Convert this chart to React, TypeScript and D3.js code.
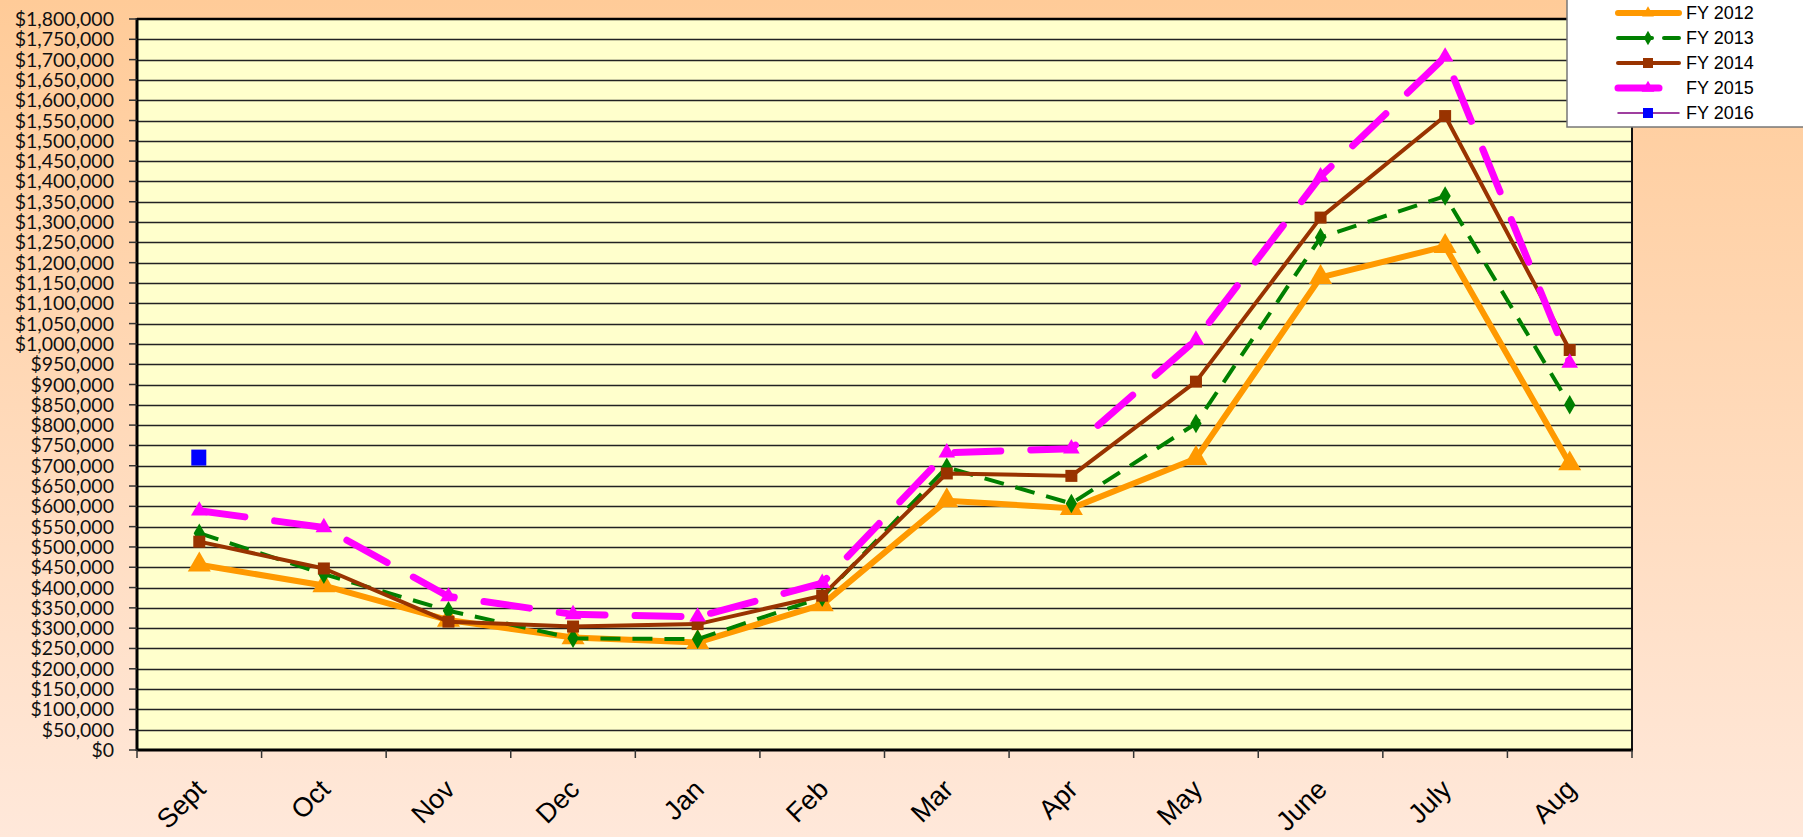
import React, { useEffect, useRef } from 'react';
import * as d3 from 'd3';

const months = ['Sept', 'Oct', 'Nov', 'Dec', 'Jan', 'Feb', 'Mar', 'Apr', 'May', 'June', 'July', 'Aug'];
const fy2012 = [456000, 405000, 320000, 277000, 265000, 358000, 614000, 595000, 718000, 1164000, 1240000, 705000];
const fy2013 = [534000, 433000, 343000, 275000, 273000, 376000, 696000, 607000, 804000, 1262000, 1364000, 850000];
const fy2014 = [513000, 447000, 316000, 304000, 310000, 380000, 681000, 675000, 907000, 1311000, 1561000, 985000];
const fy2015 = [589000, 548000, 378000, 334000, 328000, 411000, 732000, 742000, 1010000, 1412000, 1707000, 953000];
const fy2016 = [720000];
const seriesNames = ['FY 2012', 'FY 2013', 'FY 2014', 'FY 2015', 'FY 2016'];

const W = 1803;
const H = 837;

const App = () => {
  const svgRef = useRef<SVGSVGElement>(null);

  useEffect(() => {
    const svg = d3.select(svgRef.current);
    svg.selectAll('*').remove();

    const left = 137, right = 1632, top = 19, bottom = 750;
    const x = d3.scaleBand().domain(months).range([left, right]);
    const y = d3.scaleLinear().domain([0, 1800000]).range([bottom, top]);
    const cx = (m: string) => (x(m) as number) + x.bandwidth() / 2;

    // background gradient
    const defs = svg.append('defs');
    const grad = defs.append('linearGradient').attr('id', 'bg').attr('x1', 0).attr('y1', 0).attr('x2', 0).attr('y2', 1);
    grad.append('stop').attr('offset', '0%').attr('stop-color', '#FFCB98');
    grad.append('stop').attr('offset', '100%').attr('stop-color', '#FFE8DA');
    svg.append('rect').attr('width', W).attr('height', H).attr('fill', 'url(#bg)');

    // plot area
    svg.append('rect')
      .attr('x', left).attr('y', top)
      .attr('width', right - left).attr('height', bottom - top)
      .attr('fill', '#FFFFCC');

    const ticks = d3.range(0, 1800001, 50000);
    svg.append('g').selectAll('line')
      .data(ticks.filter(t => t > 0 && t < 1800000))
      .join('line')
      .attr('x1', left).attr('x2', right)
      .attr('y1', d => Math.round(y(d)) + 0.5).attr('y2', d => Math.round(y(d)) + 0.5)
      .attr('stroke', '#222').attr('stroke-width', 1.3);

    // borders
    svg.append('line').attr('x1', left).attr('x2', right).attr('y1', top).attr('y2', top)
      .attr('stroke', '#000').attr('stroke-width', 2.5);
    svg.append('line').attr('x1', right).attr('x2', right).attr('y1', top).attr('y2', bottom)
      .attr('stroke', '#111').attr('stroke-width', 2);
    svg.append('line').attr('x1', left).attr('x2', right + 1).attr('y1', bottom).attr('y2', bottom)
      .attr('stroke', '#000').attr('stroke-width', 3);
    svg.append('line').attr('x1', left).attr('x2', left).attr('y1', top - 1).attr('y2', bottom + 1)
      .attr('stroke', '#000').attr('stroke-width', 3);

    // y ticks + labels
    const yAxis = svg.append('g');
    yAxis.selectAll('line')
      .data(ticks)
      .join('line')
      .attr('x1', left - 8).attr('x2', left)
      .attr('y1', d => y(d)).attr('y2', d => y(d))
      .attr('stroke', '#333').attr('stroke-width', 1.5);
    yAxis.selectAll('text')
      .data(ticks)
      .join('text')
      .attr('x', 114)
      .attr('y', d => y(d))
      .attr('dy', '0.36em')
      .attr('text-anchor', 'end')
      .style('font-family', 'Lato, "Open Sans", sans-serif')
      .style('font-size', '19.5px')
      .attr('fill', '#111')
      .text(d => d3.format('$,')(d));

    // x ticks + labels
    const xAxis = svg.append('g');
    xAxis.selectAll('line')
      .data(d3.range(months.length + 1))
      .join('line')
      .attr('x1', i => left + i * x.bandwidth()).attr('x2', i => left + i * x.bandwidth())
      .attr('y1', bottom).attr('y2', bottom + 8)
      .attr('stroke', '#333').attr('stroke-width', 1.5);
    xAxis.selectAll('text')
      .data(months)
      .join('text')
      .attr('transform', d => `translate(${cx(d) + 8},${bottom + 41}) rotate(-45)`)
      .attr('text-anchor', 'end')
      .style('font-family', '"Liberation Sans", Arial, sans-serif')
      .style('font-size', '27px')
      .attr('fill', '#000')
      .text(d => d);

    const line = d3.line<number>().x((d, i) => cx(months[i])).y(d => y(d));

    const tri = (s: number) => d3.symbol().type(d3.symbolTriangle).size(s)();
    const dia = (s: number) => d3.symbol().type(d3.symbolDiamond).size(s)();

    const series = [
      { data: fy2012, color: '#FF9900', width: 6, dash: null, marker: 'tri', ms: 230, cap: 'butt' },
      { data: fy2013, color: '#008000', width: 4, dash: '20,12', marker: 'dia', ms: 110, cap: 'butt' },
      { data: fy2014, color: '#993300', width: 4, dash: null, marker: 'sq', ms: 12, cap: 'butt' },
      { data: fy2015, color: '#FF00FF', width: 7, dash: '46,30', marker: 'tri', ms: 120, cap: 'round' },
    ];

    const plot = svg.append('g');
    series.forEach(s => {
      plot.append('path')
        .datum(s.data)
        .attr('d', line)
        .attr('fill', 'none')
        .attr('stroke', s.color)
        .attr('stroke-width', s.width)
        .attr('stroke-linecap', s.cap)
        .attr('stroke-linejoin', 'round')
        .attr('stroke-dasharray', s.dash);
      const g = plot.append('g');
      s.data.forEach((v, i) => {
        const px = cx(months[i]), py = y(v);
        if (s.marker === 'sq') {
          g.append('rect').attr('x', px - s.ms / 2).attr('y', py - s.ms / 2)
            .attr('width', s.ms).attr('height', s.ms).attr('fill', s.color);
        } else {
          g.append('path')
            .attr('d', s.marker === 'tri' ? tri(s.ms) : dia(s.ms))
            .attr('transform', `translate(${px},${py})`)
            .attr('fill', s.color);
        }
      });
    });
    fy2016.forEach((v, i) => {
      plot.append('rect')
        .attr('x', cx(months[i]) - 8).attr('y', y(v) - 8)
        .attr('width', 15).attr('height', 16).attr('fill', '#0000FF');
    });

    // legend
    const lg = svg.append('g');
    lg.append('rect').attr('x', 1567).attr('y', -2).attr('width', 240).attr('height', 129)
      .attr('fill', '#fff').attr('stroke', '#777').attr('stroke-width', 1.5);
    const legendStyles = [
      { color: '#FF9900', width: 6, dash: null, x2: 1679, marker: 'tri', ms: 60, mc: '#FF9900' },
      { color: '#008000', width: 4, dash: '34,12', x2: 1679, marker: 'dia', ms: 60, mc: '#008000' },
      { color: '#993300', width: 4, dash: null, x2: 1679, marker: 'sq', ms: 10, mc: '#993300' },
      { color: '#FF00FF', width: 7, dash: null, x2: 1659, marker: 'tri', ms: 70, mc: '#FF00FF' },
      { color: '#800080', width: 1.5, dash: null, x2: 1679, marker: 'sq', ms: 10, mc: '#0000FF' },
    ];
    seriesNames.forEach((name, i) => {
      const ly = 13 + i * 25;
      const st = legendStyles[i];
      lg.append('line').attr('x1', 1618).attr('x2', st.x2).attr('y1', ly).attr('y2', ly)
        .attr('stroke', st.color).attr('stroke-width', st.width)
        .attr('stroke-linecap', 'round')
        .attr('stroke-dasharray', st.dash);
      if (st.marker === 'sq') {
        lg.append('rect').attr('x', 1648 - st.ms / 2).attr('y', ly - st.ms / 2)
          .attr('width', st.ms).attr('height', st.ms).attr('fill', st.mc);
      } else {
        lg.append('path')
          .attr('d', st.marker === 'tri' ? tri(st.ms) : dia(st.ms))
          .attr('transform', `translate(1648,${ly})`)
          .attr('fill', st.mc);
      }
      lg.append('text')
        .attr('x', 1686).attr('y', ly).attr('dy', '0.36em')
        .style('font-family', '"Liberation Sans", Arial, sans-serif')
        .style('font-size', '18px')
        .attr('fill', '#000')
        .text(name);
    });
  }, []);

  return (
    <svg
      ref={svgRef}
      width={W}
      height={H}
      viewBox={`0 0 ${W} ${H}`}
      style={{ position: 'absolute', left: 0, top: 0, display: 'block' }}
    />
  );
};

export default App;
